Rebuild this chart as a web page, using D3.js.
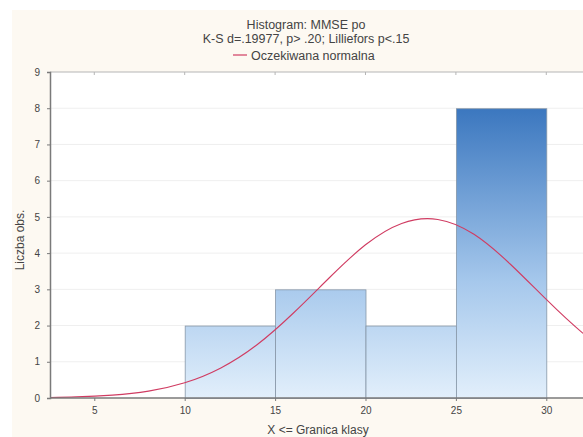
<!DOCTYPE html>
<html><head><meta charset="utf-8">
<script src="https://cdn.jsdelivr.net/npm/d3@7"></script>
<style>body{margin:0;background:#fff}svg{display:block}text{font-family:"Liberation Sans",Arial,sans-serif;fill:#444}</style>
</head><body>
<svg id="c" width="583" height="437"></svg>
<script>
const binStarts = [10, 15, 20, 25];
const binEnds = [15, 20, 25, 30];
const binCounts = [2, 3, 2, 8];
const curveX = [2, 4, 6, 8, 10, 12, 14, 16, 18, 20, 22, 24, 26, 28, 30, 32, 34];
const curveY = [0.01, 0.03, 0.08, 0.19, 0.42, 0.83, 1.47, 2.34, 3.32, 4.23, 4.82, 4.93, 4.52, 3.70, 2.72, 1.80, 1.06];
const xTicks = [5, 10, 15, 20, 25, 30];
const yTicks = [0, 1, 2, 3, 4, 5, 6, 7, 8, 9];
const titleLines = ["Histogram: MMSE po", "K-S d=.19977, p> .20; Lilliefors p<.15"];
const legendLabel = "Oczekiwana normalna";
const xTitle = "X <= Granica klasy";
const yTitle = "Liczba obs.";

const svg = d3.select("#c");
const L = 50, T = 72, B = 398, R = 583;
const x = d3.scaleLinear().domain([2.55, 32.55]).range([L, L + 30 * 18.08]);
const y = d3.scaleLinear().domain([0, 9]).range([B, T]);

svg.append("rect").attr("x", 12).attr("y", 10).attr("width", 571).attr("height", 427).attr("fill", "#fdf9f2");
svg.append("rect").attr("x", L).attr("y", T).attr("width", R - L).attr("height", B - T).attr("fill", "#ffffff");

const defs = svg.append("defs");
const g = defs.append("linearGradient").attr("id", "bg").attr("gradientUnits", "userSpaceOnUse")
  .attr("x1", 0).attr("x2", 0).attr("y1", y(8)).attr("y2", y(0));
g.append("stop").attr("offset", 0).attr("stop-color", "#3b77bf");
g.append("stop").attr("offset", 0.6).attr("stop-color", "#a6c8ec");
g.append("stop").attr("offset", 1).attr("stop-color", "#e2effb");

// grid
svg.append("g").selectAll("line").data(yTicks.slice(1, -1)).join("line")
  .attr("x1", L).attr("x2", R).attr("y1", d => y(d)).attr("y2", d => y(d))
  .attr("stroke", "#efefef").attr("stroke-width", 1);

// top border with ticks
svg.append("line").attr("x1", L).attr("x2", R).attr("y1", T).attr("y2", T)
  .attr("stroke", "#b5b5b5").attr("stroke-width", 1.2);
svg.append("g").selectAll("line").data(xTicks).join("line")
  .attr("x1", d => x(d)).attr("x2", d => x(d)).attr("y1", T).attr("y2", T + 3)
  .attr("stroke", "#b5b5b5");

// bars
svg.append("g").selectAll("rect").data(binCounts).join("rect")
  .attr("x", (d, i) => x(binStarts[i]) + 0.5)
  .attr("y", d => y(d) + 0.5)
  .attr("width", (d, i) => x(binEnds[i]) - x(binStarts[i]))
  .attr("height", d => y(0) - y(d))
  .attr("fill", "url(#bg)").attr("stroke", "#8797a8").attr("stroke-width", 0.8);

// curve
const clip = defs.append("clipPath").attr("id", "pc");
clip.append("rect").attr("x", L).attr("y", T).attr("width", R - L).attr("height", B - T);
svg.append("path").attr("clip-path", "url(#pc)")
  .datum(curveX.map((v, i) => [v, curveY[i]]))
  .attr("d", d3.line().x(d => x(d[0])).y(d => y(d[1])).curve(d3.curveNatural))
  .attr("fill", "none").attr("stroke", "#d03c62").attr("stroke-width", 1.1);

// axes
const xa = svg.append("g").attr("transform", `translate(0,${B})`)
  .call(d3.axisBottom(x).tickValues(xTicks).tickSize(3).tickPadding(6));
const ya = svg.append("g").attr("transform", `translate(${L},0)`)
  .call(d3.axisLeft(y).tickValues(yTicks).tickSize(3).tickPadding(7));
[xa, ya].forEach(a => {
  a.select(".domain").attr("stroke", "#7a7a7a").attr("stroke-width", 1.5);
  a.selectAll(".tick line").attr("stroke", "#7a7a7a");
  a.selectAll("text").attr("font-size", 10).attr("fill", "#555").style("font-family", '"Liberation Sans",Arial,sans-serif');
});
xa.select(".domain").attr("d", `M${L},0H${R}`);

// titles
svg.append("g").selectAll("text").data(titleLines).join("text")
  .attr("x", 306).attr("y", (d, i) => 29 + i * 14).attr("text-anchor", "middle")
  .attr("font-size", 12.5).attr("fill", "#444").text(d => d);
svg.append("line").attr("x1", 233).attr("x2", 247).attr("y1", 55).attr("y2", 55)
  .attr("stroke", "#d03c62").attr("stroke-width", 1.2);
svg.append("text").attr("x", 251).attr("y", 59.5).attr("font-size", 12.5).attr("fill", "#444").text(legendLabel);
svg.append("text").attr("x", 318).attr("y", 434).attr("text-anchor", "middle").attr("font-size", 12).attr("fill", "#444").text(xTitle);
svg.append("text").attr("transform", "translate(24,240) rotate(-90)").attr("text-anchor", "middle")
  .attr("font-size", 12).attr("fill", "#444").text(yTitle);
</script>
</body></html>
